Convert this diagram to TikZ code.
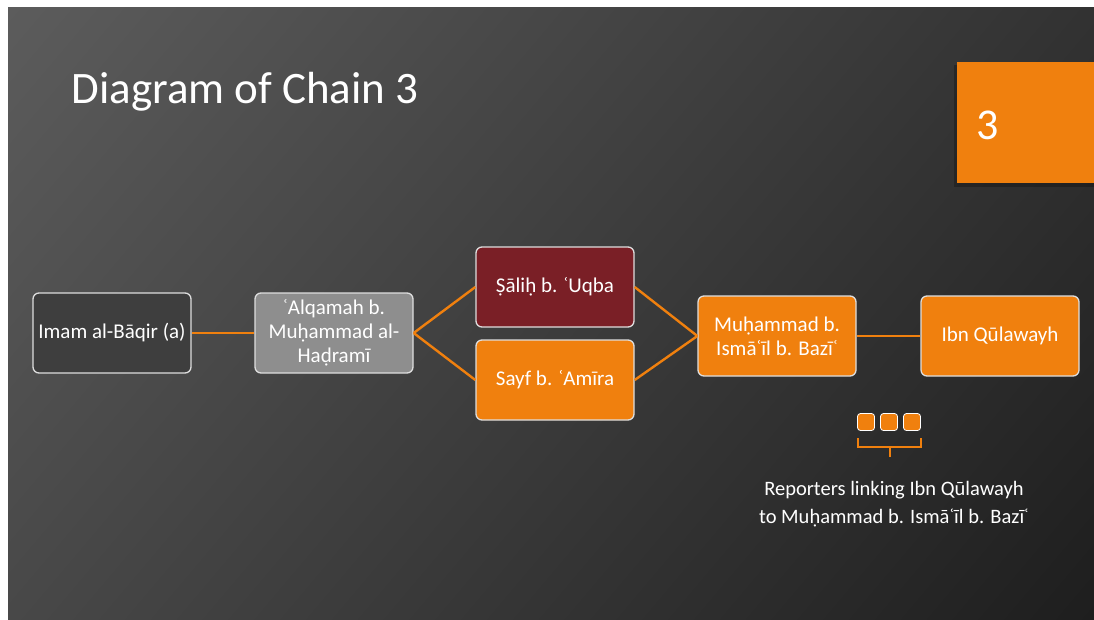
\documentclass[tikz,border=0pt]{standalone}
\usepackage{fontspec}
\setmainfont{Carlito}
\usetikzlibrary{shadings}
\definecolor{chainorange}{RGB}{240,128,14}
\definecolor{chainred}{RGB}{122,31,38}
\definecolor{chaingray}{RGB}{142,142,142}
\definecolor{chaindark}{RGB}{62,62,62}
\definecolor{chainedge}{RGB}{222,222,222}
\definecolor{bgul}{RGB}{92,92,92}
\definecolor{bgur}{RGB}{50,50,50}
\definecolor{bgll}{RGB}{72,72,72}
\definecolor{bglr}{RGB}{30,30,30}
\tikzset{
  box/.style={draw=chainedge, line width=1.3pt, rounded corners=6pt, text=white,
    minimum width=158pt, minimum height=80pt, align=center,
    font=\fontsize{21}{24}\selectfont},
  link/.style={chainorange, line width=2.4pt},
  dotbox/.style={draw=white, line width=0.8pt, fill=chainorange, rounded corners=3pt,
    minimum size=17pt, inner sep=0pt}
}
\begin{document}
\begin{tikzpicture}[x=1pt,y=-1pt]
\fill[white] (0,0) rectangle (1094,619);
\shade[upper left=bgul, upper right=bgur, lower left=bgll, lower right=bglr]
  (8,7) rectangle (1094,619);

% title and number tab
\node[anchor=west, text=white, font=\fontsize{45}{50}\selectfont] (title) at (68,92) {Diagram of Chain 3};
\fill[black, opacity=0.25] (954,65) rectangle (1094,187);
\fill[chainorange] (957,62) rectangle (1094,183);
\node[text=white, font=\fontsize{44}{48}\selectfont] (num) at (988,125) {3};

% chain
\node[box, fill=chaindark] (imam) at (112,333) {Imam al-Bāqir (a)};
\node[box, fill=chaingray] (alqamah) at (334,333) {ʿAlqamah b.\\Muḥammad al-\\Haḍramī};
\node[box, fill=chainred] (salih) at (555,287) {Ṣāliḥ b. ʿUqba};
\node[box, fill=chainorange] (sayf) at (555,380) {Sayf b. ʿAmīra};
\node[box, fill=chainorange] (bazi) at (777,336) {Muḥammad b.\\Ismāʿīl b. Bazīʿ};
\node[box, fill=chainorange] (qulawayh) at (1000,336) {Ibn Qūlawayh};

\draw[link] (imam) -- (alqamah);
\draw[link] (alqamah.east) -- (salih.west);
\draw[link] (alqamah.east) -- (sayf.west);
\draw[link] (salih.east) -- (bazi.west);
\draw[link] (sayf.east) -- (bazi.west);
\draw[link] (bazi) -- (qulawayh);

% reporters icon
\node[dotbox] (r1) at (866,422) {};
\node[dotbox] (r2) at (889,422) {};
\node[dotbox] (r3) at (912,422) {};
\draw[chainorange, line width=1.6pt] (858,438) -- (858,447) -- (921,447) -- (921,438);
\draw[chainorange, line width=1.6pt] (890,447) -- (890,457);
\node[text=white, align=center, font=\fontsize{20.5}{28}\selectfont] (note) at (894,504)
  {Reporters linking Ibn Qūlawayh\\to Muḥammad b. Ismāʿīl b. Bazīʿ};
\end{tikzpicture}
\end{document}
